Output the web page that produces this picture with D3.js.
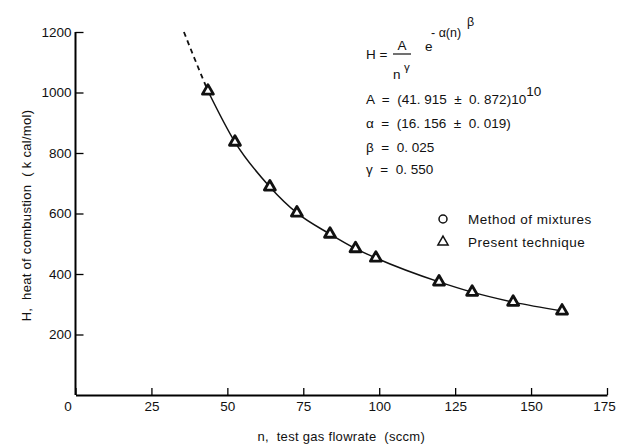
<!DOCTYPE html>
<html>
<head>
<meta charset="utf-8">
<script src="https://cdn.jsdelivr.net/npm/d3@7"></script>
<style>
  body { margin: 0; background: white; }
  svg text { font-family: "Liberation Sans", Arial, sans-serif; fill: #111; white-space: pre; }
</style>
</head>
<body>
<svg id="main-svg" width="617" height="445"></svg>
<script>
// tick values
const xTicks = [0, 25, 50, 75, 100, 125, 150, 175];
const yTicks = [200, 400, 600, 800, 1000, 1200];

const nValues = [43.6, 52.5, 64.0, 72.9, 83.8, 92.2, 98.9, 119.7, 130.6, 144.1, 160.2];
const hValues = [1005, 836, 688, 602, 532, 484, 453, 374, 340, 307, 278];

// dashed extrapolation of the fit above the first point
const dashN = [35.7, 39.0, 43.6];
const dashH = [1200, 1117, 1005];

const legendLabels = ["Method of mixtures", "Present technique"];

const svg = d3.select("#main-svg");

const x = d3.scaleLinear().domain([0, 175]).range([75.5, 607]);
const y = d3.scaleLinear().domain([0, 1200]).range([395, 32]);

// axes
const xAxis = d3.axisBottom(x).tickValues(xTicks).tickSize(-7).tickSizeOuter(0).tickPadding(6);
const gx = svg.append("g").attr("transform", `translate(0,${y(0)})`).call(xAxis);
gx.select(".domain").attr("stroke-width", 2);
gx.selectAll(".tick line").attr("stroke-width", 1.3);
gx.selectAll(".tick text")
    .style("font-size", "13.5px")
    .attr("font-family", null)
    .attr("x", d => d === 0 ? -8 : d === 175 ? -3 : 0);

const yAxis = d3.axisLeft(y).tickValues(yTicks).tickFormat(d3.format("d"))
    .tickSize(-8).tickSizeOuter(0).tickPadding(4);
const gy = svg.append("g").attr("transform", `translate(${x(0)},0)`).call(yAxis);
gy.select(".domain").attr("stroke-width", 2).attr("d", `M0,${y(1200)}V${y(0)}`);
gy.selectAll(".tick line").attr("stroke-width", 1.3);
gy.selectAll(".tick text").style("font-size", "13.5px").attr("font-family", null);
svg.selectAll(".tick text").attr("fill", "#111");

// axis titles
svg.append("text")
    .attr("x", (x(0) + x(175)) / 2)
    .attr("y", 441)
    .attr("text-anchor", "middle")
    .style("font-size", "13px")
    .style("letter-spacing", "0.3px")
    .text("n,  test gas flowrate  (sccm)");

svg.append("text")
    .attr("transform", `translate(31,${(y(0) + y(1200)) / 2 + 2}) rotate(-90)`)
    .attr("text-anchor", "middle")
    .style("font-size", "13px")
    .style("letter-spacing", "0.3px")
    .text("H,  heat of combustion  ( k cal/mol)");

// fitted curve
const line = d3.line()
    .x(d => x(d[0]))
    .y(d => y(d[1]))
    .curve(d3.curveMonotoneX);

svg.append("path")
    .datum(dashN.map((n, i) => [n, dashH[i]]))
    .attr("d", line)
    .attr("fill", "none")
    .attr("stroke", "#111")
    .attr("stroke-width", 1.8)
    .attr("stroke-dasharray", "5,4");

const pts = nValues.map((n, i) => [n, hValues[i]]);
svg.append("path")
    .datum(pts)
    .attr("d", line)
    .attr("fill", "none")
    .attr("stroke", "#111")
    .attr("stroke-width", 1.5);

// triangle markers
const tri = d3.symbol().type(d3.symbolTriangle).size(52);
svg.selectAll(".pt")
    .data(pts)
    .join("path")
    .attr("class", "pt")
    .attr("transform", d => `translate(${x(d[0])},${y(d[1])})`)
    .attr("d", tri)
    .attr("fill", "white")
    .attr("stroke", "#111")
    .attr("stroke-width", 2.8)
    .attr("stroke-linejoin", "round");

// legend
const legend = svg.append("g").attr("transform", "translate(443,219)");
legend.append("circle")
    .attr("r", 4)
    .attr("fill", "none")
    .attr("stroke", "#111")
    .attr("stroke-width", 1.5);
legend.append("path")
    .attr("transform", "translate(0,23)")
    .attr("d", d3.symbol().type(d3.symbolTriangle).size(45))
    .attr("fill", "none")
    .attr("stroke", "#111")
    .attr("stroke-width", 1.5);
legendLabels.forEach((t, i) => {
    legend.append("text")
        .attr("x", 25)
        .attr("y", i * 23 + 4.5)
        .style("font-size", "13.5px")
        .style("letter-spacing", "0.5px")
        .text(t);
});

// equation block
const eq = svg.append("g").style("font-size", "13.5px");
eq.append("text").attr("x", 366).attr("y", 59).text("H =");
eq.append("text").attr("x", 402).attr("y", 50).attr("text-anchor", "middle").text("A");
eq.append("line").attr("x1", 393).attr("x2", 411).attr("y1", 54).attr("y2", 54)
    .attr("stroke", "#111").attr("stroke-width", 1.2);
eq.append("text").attr("x", 393).attr("y", 79).text("n");
eq.append("text").attr("x", 404).attr("y", 71).style("font-size", "11.5px").text("γ");
eq.append("text").attr("x", 425).attr("y", 51).text("e");
eq.append("text").attr("x", 431).attr("y", 37).style("font-size", "12.5px").text("- α(n)");
eq.append("text").attr("x", 467).attr("y", 26).style("font-size", "12.5px").text("β");

const aLine = eq.append("text").attr("x", 366).attr("y", 104);
aLine.append("tspan").text("A  =  (41. 915  ±  0. 872)10");
aLine.append("tspan").attr("dy", -8).text("10");

const eqLines = [
    ["α  =  (16. 156  ±  0. 019)", 128],
    ["β  =  0. 025", 152],
    ["γ  =  0. 550", 174]
];
eqLines.forEach(([t, yy]) => {
    eq.append("text").attr("x", 366).attr("y", yy).text(t);
});
</script>
</body>
</html>
